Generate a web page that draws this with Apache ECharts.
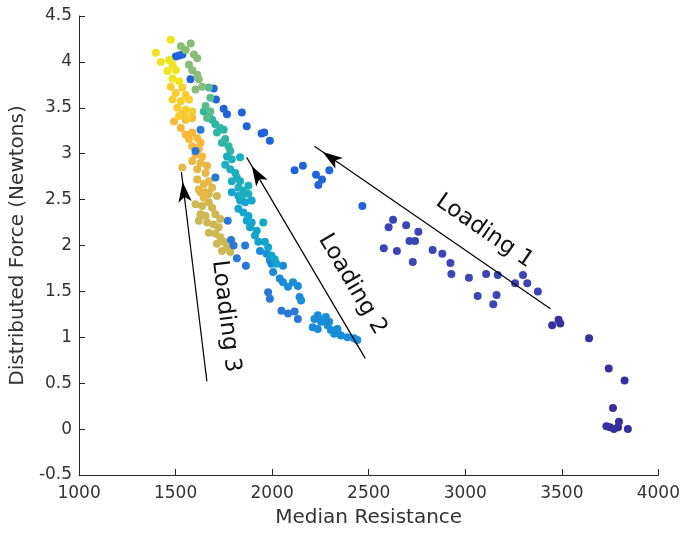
<!DOCTYPE html>
<html>
<head>
<meta charset="utf-8">
<script src="https://cdn.jsdelivr.net/npm/echarts@6/dist/echarts.min.js"></script>
<style>
html,body{margin:0;padding:0;background:#fff;}
#chart{width:683px;height:533px;}
</style>
</head>
<body>
<div id="chart"></div>
<script>
// ---- data (x = median resistance, y = distributed force) ----
var xTicks = [1000, 1500, 2000, 2500, 3000, 3500, 4000];
var yTicks = [-0.5, 0, 0.5, 1, 1.5, 2, 2.5, 3, 3.5, 4, 4.5];

var load1Bottom = [[3450,1.13],[3483,1.19],[3492,1.15],[3641,0.99],[3743,0.66],[3825,0.53],[3765,0.23],[3731,0.03],[3749,0.02],[3770,0.0],[3796,0.08],[3791,0.02],[3842,0.0]];
var load1Mid = [[2626,2.28],[2603,2.20],[2694,2.22],[2757,2.15],[2711,2.05],[2740,2.05],[2578,1.97],[2646,1.94],[2728,1.82],[2831,1.95],[2881,1.91],[2923,1.81],[2928,1.69],[3019,1.65],[3108,1.69],[3168,1.68],[3064,1.45],[3162,1.46],[3145,1.36],[3258,1.59],[3299,1.68],[3321,1.59],[3376,1.50]];
var load1Top = [[2467,2.43],[2116,2.82],[2159,2.87],[2227,2.77],[2258,2.72],[2239,2.66],[2296,2.82],[1697,3.71],[1709,3.59],[1749,3.49],[1766,3.43],[1843,3.45],[1868,3.30],[1945,3.22],[1959,3.23],[1988,3.14],[1501,4.06],[1518,4.07],[1535,4.08],[1577,3.81]];
var unloadBlue = [[1629,3.26],[1603,3.03],[1706,2.74],[1770,2.27],[1787,2.06],[1800,2.0],[1860,2.0],[1817,1.86],[1864,1.78],[1979,1.49],[1988,1.42],[2048,1.29],[2082,1.26],[2116,1.28],[2133,1.20]];
var load2Low = [[1937,1.94],[1971,1.91],[1988,1.84],[1996,1.80],[2056,1.78],[2005,1.71],[2039,1.64],[2056,1.60],[2082,1.55],[2108,1.60],[2133,1.56],[2142,1.44],[2150,1.40],[2219,1.20],[2236,1.24],[2253,1.17],[2270,1.19],[2210,1.11],[2236,1.09],[2287,1.13],[2304,1.08],[2321,1.04],[2338,1.06],[2356,1.02],[2390,1.00],[2424,0.99],[2441,0.97],[2278,1.22],[2295,1.17],[2338,1.09]];
var load2Cyan = [[1791,2.58],[1825,2.54],[1834,2.49],[1860,2.47],[1894,2.49],[1825,2.40],[1851,2.36],[1877,2.32],[1868,2.27],[1894,2.25],[1885,2.20],[1920,2.16],[1911,2.11],[1954,2.25],[1928,2.04],[1962,2.04],[1979,1.98],[1996,1.89],[2013,1.85],[2022,1.80]];
var load2Teal = [[1757,2.88],[1783,2.83],[1809,2.79],[1817,2.74],[1791,2.70],[1834,2.70],[1825,2.63],[1851,2.60],[1877,2.65],[1842,2.54],[1877,2.56],[1766,2.97],[1791,2.94],[1834,2.96]];
var load2TealHigh = [[1646,3.46],[1672,3.41],[1689,3.37],[1706,3.32],[1731,3.28],[1714,3.23],[1749,3.26],[1757,3.16],[1740,3.12],[1774,3.08],[1783,3.03]];
var load2Green = [[1672,3.72],[1680,3.61],[1655,3.52],[1680,3.46],[1663,3.39]];
var topGreen = [[1527,4.17],[1578,4.20],[1552,4.13],[1595,4.08],[1612,4.04],[1569,3.97],[1586,3.91],[1612,3.86],[1620,3.81],[1637,3.73],[1603,3.70]];
var load3Gold = [[1629,2.58],[1672,2.56],[1714,2.54],[1603,2.45],[1637,2.43],[1672,2.47],[1689,2.41],[1629,2.34],[1655,2.32],[1706,2.34],[1731,2.29],[1620,2.27],[1663,2.25],[1697,2.23],[1723,2.20],[1672,2.14],[1706,2.13],[1731,2.09],[1749,2.04],[1714,2.02],[1766,1.98],[1783,1.93],[1740,1.94]];
var load3Amber = [[1586,2.92],[1629,2.90],[1663,2.87],[1535,2.85],[1612,2.83],[1655,2.79],[1612,2.72],[1646,2.67],[1672,2.70],[1620,2.61],[1655,2.58],[1689,2.63],[1646,2.52]];
var load3Orange = [[1492,3.35],[1535,3.43],[1552,3.37],[1586,3.39],[1527,3.28],[1552,3.21],[1586,3.23],[1569,3.16],[1612,3.17],[1629,3.12],[1586,3.08],[1620,3.05],[1603,2.99],[1637,2.97]];
var load3YellowLow = [[1501,3.66],[1552,3.64],[1484,3.59],[1527,3.57],[1569,3.59],[1509,3.50],[1552,3.48],[1586,3.46],[1518,3.41],[1561,3.39],[1475,3.73],[1535,3.72]];
var load3Yellow = [[1398,4.10],[1424,4.00],[1467,4.02],[1484,3.97],[1458,3.90],[1501,3.91],[1484,3.82],[1518,3.79],[1475,4.24]];

// arrows: head (tip) and tail coordinates, with labels
var arrowNames = ['Loading 1', 'Loading 2', 'Loading 3'];
var arrowHeads = [[2219, 3.08], [1868, 2.96], [1530, 2.80]];
var arrowTails = [[3441, 1.31], [2482, 0.77], [1662, 0.52]];

// ---- styles ----
var groups = [
  [load1Bottom, '#36309f'],
  [load1Mid, '#3c45b6'],
  [load1Top, '#2163d9'],
  [load2Low, '#1a8cd7'],
  [load2Cyan, '#12a6cd'],
  [load2Teal, '#1cafbd'],
  [load2TealHigh, '#2fb5a3'],
  [load2Green, '#58bb8c'],
  [topGreen, '#87bd77'],
  [load3Gold, '#ceb854'],
  [load3Amber, '#e6b845'],
  [load3Orange, '#f8b93a'],
  [load3YellowLow, '#f8cd2e'],
  [load3Yellow, '#efe31d'],
  [unloadBlue, '#2a78d6']
];

var FONT = '"DejaVu Sans", sans-serif';
var series = groups.map(function (g) {
  return {
    type: 'scatter', data: g[0], symbol: 'circle', symbolSize: 8,
    itemStyle: { color: g[1], opacity: 1 }, silent: true, animation: false
  };
});

var labelDist = [[42, 15], [14, 15], [6, 15]];
var arrowData = arrowNames.map(function (n, i) {
  return [
    { coord: arrowHeads[i], name: n, symbol: 'arrow', symbolSize: [10, 20], symbolOffset: [0, 10],
      label: { distance: labelDist[i] } },
    { coord: arrowTails[i], symbol: 'none' }
  ];
});

series.push({
  type: 'scatter', data: [], silent: true, animation: false,
  markLine: {
    silent: true, animation: false,
    symbol: ['arrow', 'none'],
    symbolSize: 12,
    lineStyle: { color: '#000', width: 1.2, type: 'solid' },
    label: {
      show: true, position: 'insideEndTop', formatter: '{b}',
      color: '#111', fontSize: 23, fontFamily: FONT
    },
    data: arrowData
  }
});

var plainNum = function (v) { return String(v); };
var axisCommon = {
  axisLine: { show: true, onZero: false, lineStyle: { color: '#262626', width: 1 } },
  axisTick: { show: true, inside: true, length: 6, lineStyle: { color: '#262626' } },
  splitLine: { show: false },
  axisLabel: { color: '#333', fontSize: 17, fontFamily: FONT, formatter: plainNum },
  nameTextStyle: { color: '#333', fontSize: 20, fontFamily: FONT },
  nameLocation: 'middle'
};

var chart = echarts.init(document.getElementById('chart'), null, { renderer: 'canvas' });
chart.setOption({
  backgroundColor: '#fff',
  animation: false,
  grid: { left: 79, right: 19, top: 16, bottom: 56, containLabel: false },
  xAxis: Object.assign({}, axisCommon, {
    type: 'value', min: xTicks[0], max: xTicks[xTicks.length - 1], interval: 500,
    name: 'Median Resistance', nameGap: 33,
    axisLabel: Object.assign({}, axisCommon.axisLabel, { margin: 10 })
  }),
  yAxis: Object.assign({}, axisCommon, {
    type: 'value', min: yTicks[0], max: yTicks[yTicks.length - 1], interval: 0.5,
    name: 'Distributed Force (Newtons)', nameGap: 40,
    axisLabel: Object.assign({}, axisCommon.axisLabel, { margin: 7 })
  }),
  series: series
});
</script>
</body>
</html>
